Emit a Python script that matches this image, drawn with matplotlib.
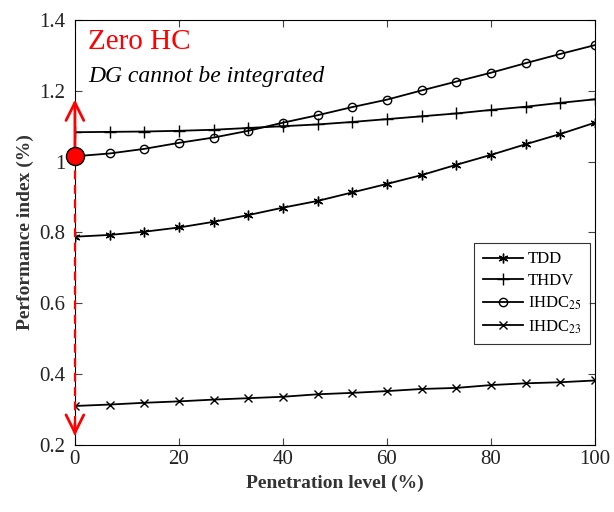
import matplotlib
matplotlib.use('Agg')
import matplotlib.pyplot as plt
import numpy as np
from matplotlib.ticker import FormatStrFormatter

# penetration level (%) and performance indices
penetration = np.linspace(0, 100, 16)
tdd = [0.788, 0.793, 0.802, 0.814, 0.830, 0.849, 0.870, 0.889,
       0.913, 0.937, 0.962, 0.991, 1.019, 1.049, 1.078, 1.110]
thdv = [1.083, 1.084, 1.085, 1.087, 1.090, 1.095, 1.100, 1.105,
        1.112, 1.120, 1.128, 1.136, 1.146, 1.155, 1.166, 1.176]
ihdc25 = [1.015, 1.023, 1.036, 1.053, 1.068, 1.087, 1.110, 1.131,
          1.154, 1.175, 1.201, 1.226, 1.251, 1.278, 1.304, 1.329]
ihdc23 = [0.310, 0.314, 0.319, 0.323, 0.328, 0.332, 0.336, 0.343,
          0.347, 0.352, 0.358, 0.361, 0.369, 0.374, 0.377, 0.382]

# zero hosting capacity marker and arrow range
hc_point = (0, 1.015)
arrow_top = 1.183
arrow_bottom = 0.218

plt.rcParams['font.family'] = ['Liberation Serif', 'DejaVu Serif']
plt.rcParams['mathtext.fontset'] = 'stix'

fig = plt.figure(figsize=(6.14, 5.12), dpi=100)
ax = fig.add_axes([0.122, 0.131, 0.847, 0.830])

ax.plot(penetration, tdd, 'k-', marker=(6, 2, 0), ms=7, mew=1, lw=1.3, label='TDD')
ax.plot(penetration, thdv, 'k-', marker='+', ms=9, mew=1, lw=1.3, label='THDV')
ax.plot(penetration, ihdc25, 'k-', marker='o', ms=6, mfc='none', mew=1, lw=1.3,
        label='IHDC$_{25}$')
ax.plot(penetration, ihdc23, 'k-', marker='x', ms=6, mew=1, lw=1.3,
        label='IHDC$_{23}$')

# red arrows from the zero HC point: solid up, dashed down
ax.annotate('', xy=(0, arrow_top), xytext=hc_point,
            arrowprops=dict(arrowstyle='->', color='red', lw=2,
                            mutation_scale=32), zorder=5, annotation_clip=False)
ax.plot([0, 0], [hc_point[1], arrow_bottom + 0.01], color='red', lw=1.6,
        ls=(0, (4, 2.5)), clip_on=False, zorder=5)
ax.annotate('', xy=(0, arrow_bottom), xytext=(0, arrow_bottom + 0.05),
            arrowprops=dict(arrowstyle='->', color='red', lw=2,
                            mutation_scale=32), zorder=5, annotation_clip=False)
ax.plot(*hc_point, 'o', color='red', mec='black', ms=13, clip_on=False, zorder=6)

ax.text(2.5, 1.338, 'Zero HC', color='red', fontsize=21, va='center')
ax.text(2.5, 1.239, 'DG cannot be integrated', fontsize=17, style='italic', va='center')

ax.set_xlim(0, 100)
ax.set_ylim(0.2, 1.4)
ax.set_xticks(np.arange(0, 101, 20))
ax.set_yticks(np.arange(0.2, 1.41, 0.2))
ax.yaxis.set_major_formatter(FormatStrFormatter('%g'))
ax.tick_params(direction='in', top=True, right=True, labelsize=15, length=5,
               color='#444444', labelcolor='#222222')
ax.tick_params(axis='y', pad=7)
for s in ax.spines.values():
    s.set_linewidth(0.8)

ax.set_xlabel('Penetration level (%)', fontsize=14, fontweight='bold', color='#333333')
ax.set_ylabel('Performance index (%)', fontsize=14, fontweight='bold', color='#333333')

leg = ax.legend(loc='upper right', bbox_to_anchor=(0.99, 0.475), fontsize=12,
                fancybox=False, edgecolor='black', handlelength=2.4,
                labelspacing=0.35, borderpad=0.5, handletextpad=0.3,
                borderaxespad=0)
leg.get_frame().set_linewidth(0.8)

fig.savefig('out.png', dpi=100)
